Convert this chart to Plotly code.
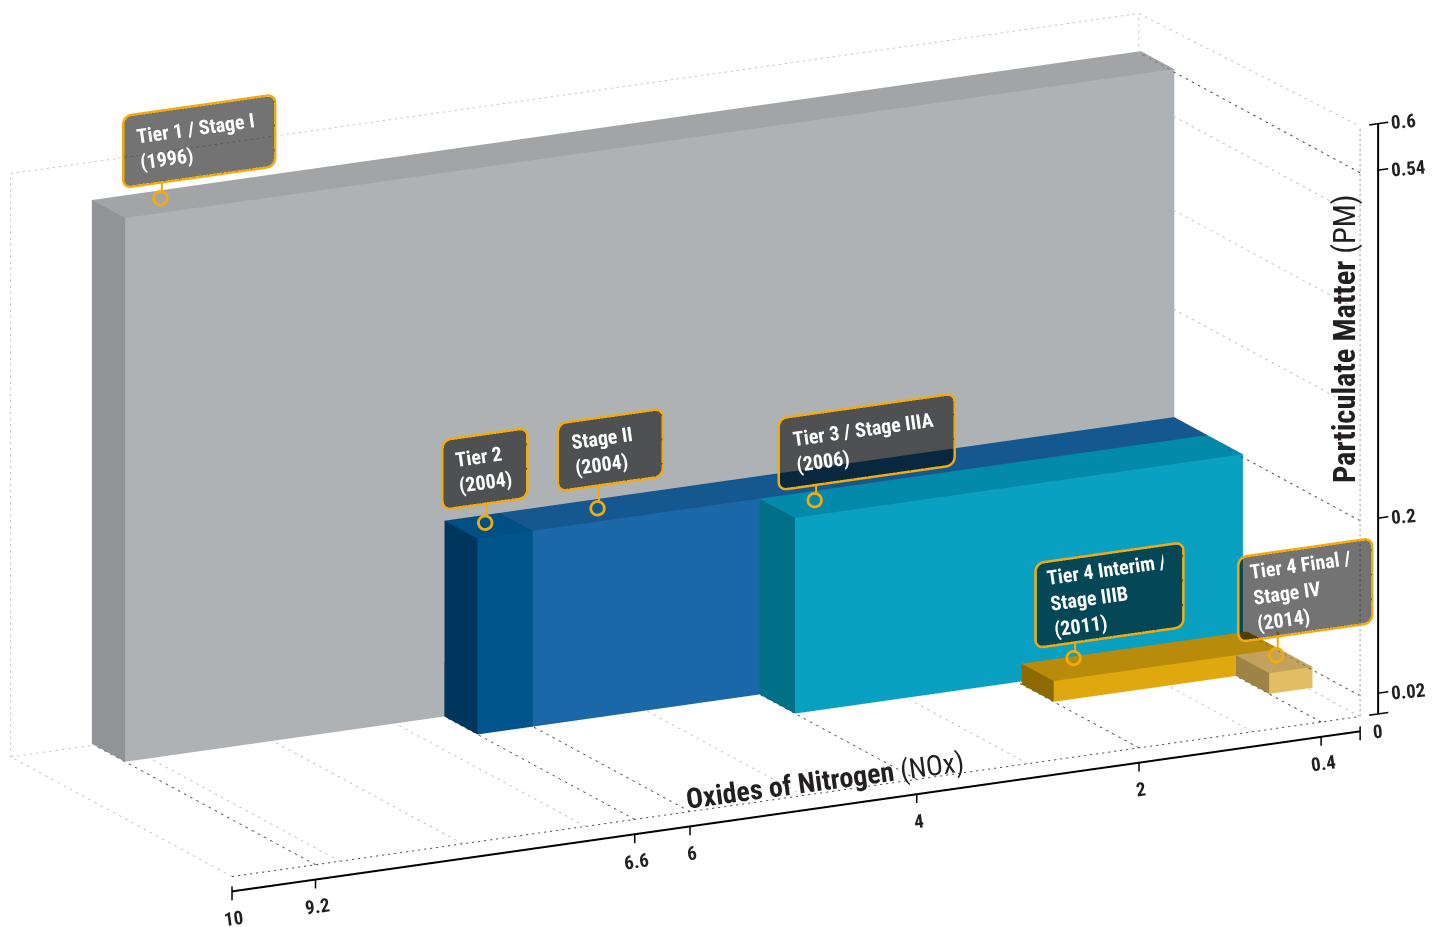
import numpy as np
import plotly.graph_objects as go

# --- data ---
NOX_TICKS = [10, 9.2, 6.6, 6, 4, 2, 0.4, 0]
PM_TICKS = [0, 0.02, 0.2, 0.54, 0.6]
TIERS = ["Tier 1 / Stage I", "Tier 2", "Stage II", "Tier 3 / Stage IIIA", "Tier 4 Interim / Stage IIIB", "Tier 4 Final / Stage IV"]
YEARS = [1996, 2004, 2004, 2006, 2011, 2014]
NOX_LIMIT = [9.2, 6.6, 6.0, 4.0, 2.0, 0.4]
PM_LIMIT = [0.54, 0.2, 0.2, 0.2, 0.02, 0.02]

# --- the hand-drawn (non-linear) axis scales of the graphic ---
NOX_PLACED = [10, 9.26, 6.43, 5.94, 3.93, 1.96, 0.345, 0]
PM_PLACED = [0, 0.021, 0.198, 0.55, 0.597]
def xs(v):
    return float(np.interp(v, NOX_TICKS[::-1], NOX_PLACED[::-1]))
def zs(v):
    return float(np.interp(v, PM_TICKS, PM_PLACED))
def ys(d):   # depth 0 = front, 1 = back wall
    return 1 - d

FONT = "Roboto Condensed, Liberation Sans Narrow, Liberation Sans, Arial"
INK = "#231f20"
GOLD = "#f2ab0e"
DARK = "#55565a"
LIGHT = "#c4c4c4"

# pixels per scene unit of the view used below
PX_X, PX_Y, PX_Z = 112.9, 218.0, 992.0

# start/end NOx of each box, depth span and face colours (front, top, side)
STARTS = [0, 6.0, 0, 0, 0, 0]
DEPTHS = [(0.86, 1.01), (0.71, 0.86), (0.71, 0.86), (0.55, 0.71), (0.385, 0.53), (0.235, 0.385)]
OVERHANG = 0.04   # boxes that reach NOx 0 run slightly past the right wall in the graphic
FACES = [("#afb2b4", "#a3a4a6", "#929396"),
         ("#00568c", "#005083", "#00365d"),
         ("#1b68a8", "#14588f", "#14588f"),
         ("#09a0c2", "#0389a9", "#007089"),
         ("#e0a80f", "#b98b0b", "#8e6b02"),
         ("#e3bd64", "#c2a25c", "#9e8347")]

FLAT = dict(ambient=1, diffuse=0, specular=0, fresnel=0, roughness=1)

def box(n):
    x0, x1 = xs(STARTS[n]), xs(NOX_LIMIT[n])
    if STARTS[n] == 0:
        x0 -= OVERHANG
    yf, yb = ys(DEPTHS[n][0]), ys(DEPTHS[n][1])
    z1 = zs(PM_LIMIT[n])
    X = [x0, x1, x1, x0, x0, x1, x1, x0]
    Y = [yf, yf, yb, yb, yf, yf, yb, yb]
    Z = [0, 0, 0, 0, z1, z1, z1, z1]
    tris = [(0, 1, 5), (0, 5, 4),   # front
            (4, 5, 6), (4, 6, 7),   # top
            (1, 2, 6), (1, 6, 5),   # side (high NOx end)
            (0, 3, 7), (0, 7, 4),   # low NOx end
            (2, 3, 7), (2, 7, 6),   # back
            (0, 1, 2), (0, 2, 3)]   # bottom
    f, t, s = FACES[n]
    cols = [f, f, t, t, s, s, s, s, s, s, s, s]
    return go.Mesh3d(x=X, y=Y, z=Z, i=[a[0] for a in tris], j=[a[1] for a in tris], k=[a[2] for a in tris],
                     facecolor=cols, flatshading=True, hoverinfo="skip", showscale=False, lighting=FLAT)

def line(x, y, z, color, width=2):
    return go.Scatter3d(x=x, y=y, z=z, mode="lines", line=dict(color=color, width=width),
                        hoverinfo="skip", showlegend=False)

def dotted(x, y, z, color, width=2, step=6.0, on=2.2):
    """Dotted guide: short separate strokes, spaced in screen pixels."""
    length = np.hypot(np.hypot((x[1] - x[0]) * PX_X, (y[1] - y[0]) * PX_Y), (z[1] - z[0]) * PX_Z)
    n = max(int(length / step), 1)
    X, Y, Z = [], [], []
    for i in range(n):
        a, b = i / n, (i + on / step) / n
        for t in (a, b):
            X.append(x[0] + (x[1] - x[0]) * t)
            Y.append(y[0] + (y[1] - y[0]) * t)
            Z.append(z[0] + (z[1] - z[0]) * t)
        X.append(None); Y.append(None); Z.append(None)
    return line(X, Y, Z, color, width)

traces = [box(n) for n in range(len(TIERS))]

# wire frame of the room
X10, X0 = xs(10), xs(0)
Z6 = zs(0.6)
WALL_TOP = 0.59
traces += [
    dotted([X10, X0], [1, 1], [0, 0], DARK),
    dotted([X10, X10], [1, 0], [0, 0], LIGHT),
    dotted([X10, xs(9.2)], [0, 0], [0, 0], LIGHT),
    dotted([X10, X10], [0, 0], [0, WALL_TOP], LIGHT),
    dotted([X10, X0], [0, 0], [WALL_TOP, WALL_TOP], LIGHT),
    dotted([X0, X0], [0, 0], [zs(0.54), WALL_TOP], LIGHT),
    dotted([X0, X0], [0, 1], [WALL_TOP, Z6], LIGHT),
    dotted([X0, X0], [1, 1], [0, Z6], LIGHT, width=3, step=5, on=2.5),
    dotted([X0, X0], [1, 0], [0, 0], LIGHT),
]
# floor lines under each limit (dark) and plain grid (light)
for v in NOX_TICKS[1:-1]:
    traces.append(dotted([xs(v), xs(v)], [1, 0], [0, 0], DARK))
for v in [9, 8, 7, 5, 3, 1]:
    traces.append(dotted([xs(v), xs(v)], [1, 0], [0, 0], LIGHT))
# wall lines
for v in [0.02, 0.2, 0.54]:
    traces.append(dotted([X0, X0], [1, 0], [zs(v), zs(v)], DARK))
for v in [0.31, 0.41, 0.505]:
    traces.append(dotted([X0, X0], [1, 0], [v, v], LIGHT))

# drawn axes, just outside the room
Z_AX = -0.015
X_AX = -0.16
traces.append(line([X10, X0], [1, 1], [Z_AX, Z_AX], "#000000", 4))
traces.append(line([X_AX, X_AX], [1, 1], [0, Z6], "#000000", 4))
for v in NOX_TICKS:
    top = Z_AX + (0.005 if v in (0, 10) else 0)
    traces.append(line([xs(v), xs(v)], [1, 1], [top, -0.024], "#000000", 3))
for v in PM_TICKS:
    a = X_AX + 0.08 if v in (0, 0.6) else X_AX
    traces.append(line([a, X_AX - 0.09], [1, 1], [zs(v), zs(v)], "#000000", 3))

# callouts: anchor on each box's top face, panel in a plane just in front of the room
ANCHOR_NOX = [8.72, 6.26, 5.24, 3.61, 1.55, 0.05]
ANCHOR_DEPTH = [0.96, 0.81, 0.80, 0.65, 0.52, 0.35]
LABELS = ["Tier 1 / Stage I<br>(1996)", "Tier 2<br>(2004)", "Stage II<br>(2004)", "Tier 3 / Stage IIIA<br>(2006)",
          "Tier 4 Interim /<br>Stage IIIB<br>(2011)", "Tier 4 Final /<br>Stage IV<br>(2014)"]
PANEL_CENTER = [(198, 139), (484, 468), (609.5, 449), (866, 441), (1109, 595), (1305, 590)]   # page pixels
PANEL_SIZE = [(152, 72), (85, 70), (105, 68), (176, 72), (148, 85), (134, 85)]
LEADER_PX = [17, 19, 20, 16, 15, 23]
PANEL_DEPTH = -0.05
RADIUS = 8

def panel_xyz(cx, cy):
    """Page pixel of the view -> scene point in the panel plane."""
    u = 1360 - cx - 218 * PANEL_DEPTH
    h = 717 + 0.1418 * u - 116.5 * PANEL_DEPTH - cy
    return u / PX_X, ys(PANEL_DEPTH), h / PX_Z

def panel_outline(cx, cy, w, h):
    xc, yc, zc = panel_xyz(cx, cy)
    pts = []
    corners = [(w / 2 - RADIUS, h / 2 - RADIUS, 0), (-w / 2 + RADIUS, h / 2 - RADIUS, 90),
               (-w / 2 + RADIUS, -h / 2 + RADIUS, 180), (w / 2 - RADIUS, -h / 2 + RADIUS, 270)]
    for ux, vy, start in corners:
        for a in np.radians(np.linspace(start, start + 90, 6)):
            pts.append((ux + RADIUS * np.cos(a), vy + RADIUS * np.sin(a)))
    X = [xc - p[0] / PX_X for p in pts]
    Z = [zc + p[1] / PX_Z for p in pts]
    return X, [yc] * len(pts), Z, (xc, yc, zc)

# moving a marker along the line of sight keeps its place on the page and lifts it out of the face
LIFT = 40.0
LIFT_X, LIFT_Y, LIFT_Z = LIFT * 0.438 / PX_X, LIFT * 0.855 / 487, LIFT * 0.277 / 1032

ann = []
for n, lab in enumerate(LABELS):
    ax_, ay_, az_ = xs(ANCHOR_NOX[n]), ys(ANCHOR_DEPTH[n]), zs(PM_LIMIT[n])
    traces.append(line([ax_, ax_], [ay_, ay_], [az_ + 5 / PX_Z, az_ + LEADER_PX[n] / PX_Z], GOLD, 4))
    for ring in (9, 8):   # two rings give the heavier stroke of the original
        traces.append(go.Scatter3d(x=[ax_ + LIFT_X], y=[ay_ + LIFT_Y], z=[az_ + LIFT_Z], mode="markers", hoverinfo="skip",
                                   showlegend=False, marker=dict(symbol="circle-open", size=ring, color=GOLD,
                                                                 line=dict(color=GOLD, width=3))))
    w, h = PANEL_SIZE[n]
    X, Y, Z, c = panel_outline(PANEL_CENTER[n][0], PANEL_CENTER[n][1], w, h)
    m = len(X)
    traces.append(go.Mesh3d(x=X + [c[0]], y=Y + [c[1]], z=Z + [c[2]], i=[m] * m, j=list(range(m)),
                            k=[(q + 1) % m for q in range(m)], color="#000000", opacity=0.55,
                            flatshading=True, hoverinfo="skip", lighting=FLAT))
    traces.append(line(X + X[:1], Y + Y[:1], Z + Z[:1], GOLD, 5))
    ann.append(dict(x=c[0], y=c[1], z=c[2], text="<b>%s</b>" % lab, showarrow=False, textangle=-8,
                    width=w - 30, height=h - 8, align="left", valign="middle",
                    font=dict(family=FONT, size=20, color="#ffffff")))

# tick labels
for v in NOX_TICKS[:-1]:
    ann.append(dict(x=xs(v), y=1, z=Z_AX, text="<b>%g</b>" % v, showarrow=False, xshift=2, yshift=-27, textangle=-7.7,
                    font=dict(family=FONT, size=19, color=INK)))
for v in PM_TICKS:
    if v == 0:
        ann.append(dict(x=X_AX, y=1, z=0, text="<b>0</b>", showarrow=False, yshift=-18, textangle=-5,
                        font=dict(family=FONT, size=19, color=INK)))
    else:
        ann.append(dict(x=X_AX, y=1, z=zs(v), text="<b>%g</b>" % v, showarrow=False, xanchor="left", xshift=10, yshift=2,
                        textangle=-5, font=dict(family=FONT, size=19, color=INK)))

ann.append(dict(x=xs(3.8), y=1, z=Z_AX, text="<b>Oxides of Nitrogen</b> (NOx)", showarrow=False, xshift=-114, yshift=11, textangle=-7.7,
                font=dict(family=FONT, size=28, color=INK)))
ann.append(dict(x=X_AX, y=1, z=zs(0.38), text="<b>Particulate Matter</b> (PM)", showarrow=False, xshift=-33, yshift=-5, textangle=-90,
                font=dict(family=FONT, size=30.5, color=INK)))

hidden = dict(visible=False, showgrid=False, zeroline=False, showspikes=False)
fig = go.Figure(traces)
fig.update_layout(
    width=1440, height=927, margin=dict(l=0, r=0, t=0, b=0), paper_bgcolor="white", showlegend=False,
    scene=dict(
        domain=dict(x=[0, 1], y=[0, 1]),
        xaxis=dict(range=[-1.878, 11.122], **hidden),
        yaxis=dict(range=[-0.1, 1.1], **hidden),
        zaxis=dict(range=[-0.3379, 0.8621], **hidden),
        aspectmode="manual", aspectratio=dict(x=3.555, y=1.257, z=2.664),
        camera=dict(projection=dict(type="orthographic"), up=dict(x=0, y=0, z=1),
                    center=dict(x=0, y=0, z=0), eye=dict(x=1.314, y=2.565, z=0.831)),
        annotations=ann,
    ),
)
fig.write_html("out.html")
